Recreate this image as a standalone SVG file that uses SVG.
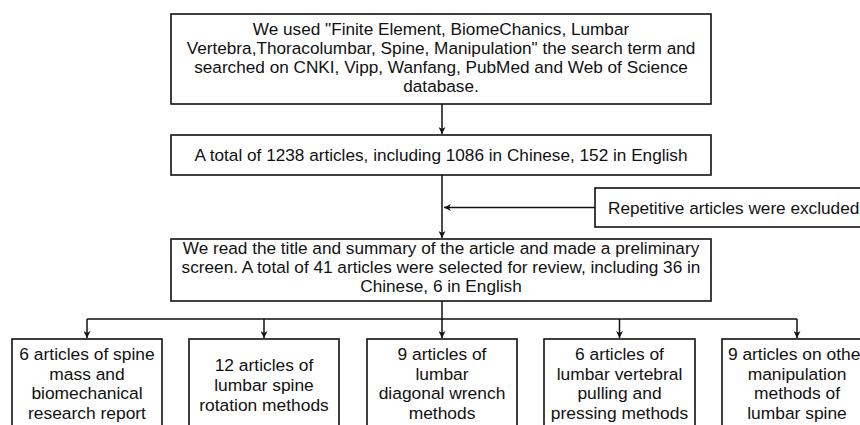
<svg xmlns="http://www.w3.org/2000/svg" width="860" height="425" viewBox="0 0 860 425">
<style>
.box{fill:#fff;stroke:#111;stroke-width:1.6}
.t{font-family:"Liberation Sans",Arial,sans-serif;font-size:17.2px;fill:#111;text-anchor:middle}
.b{font-family:"Liberation Sans",Arial,sans-serif;font-size:17.4px;fill:#111;text-anchor:middle}
.c{fill:none;stroke:#111;stroke-width:1.5}
</style>
<defs>
<marker id="ah" viewBox="0 0 10 10" refX="10" refY="5" markerWidth="7" markerHeight="7" markerUnits="userSpaceOnUse" orient="auto">
<path d="M0,0 L10,5 L0,10 L3,5 Z" fill="#111"/>
</marker>
</defs>
<rect width="860" height="425" fill="#fff"/>
<g id="connectors">
<path class="c" d="M442,104 V134" marker-end="url(#ah)"/>
<path class="c" d="M442,175 V238" marker-end="url(#ah)"/>
<path class="c" d="M595,207.5 H444" marker-end="url(#ah)"/>
<path class="c" d="M442,301 V319 M87,319 H797"/>
<path class="c" d="M87,319 V338" marker-end="url(#ah)"/>
<path class="c" d="M264,319 V338" marker-end="url(#ah)"/>
<path class="c" d="M442,319 V338" marker-end="url(#ah)"/>
<path class="c" d="M619.5,319 V338" marker-end="url(#ah)"/>
<path class="c" d="M797,319 V338" marker-end="url(#ah)"/>
</g>
<g id="search">
<rect class="box" x="171" y="14" width="540" height="90"/>
<text class="t"><tspan x="441" y="35">We used "Finite Element, BiomeChanics, Lumbar</tspan><tspan x="441" y="54">Vertebra,Thoracolumbar, Spine, Manipulation" the search term and</tspan><tspan x="441" y="73">searched on CNKI, Vipp, Wanfang, PubMed and Web of Science</tspan><tspan x="441" y="92">database.</tspan></text>
</g>
<g id="total">
<rect class="box" x="171" y="135" width="540" height="40"/>
<text class="t" x="441" y="161">A total of 1238 articles, including 1086 in Chinese, 152 in English</text>
</g>
<g id="excluded">
<rect class="box" x="595" y="188" width="280" height="39"/>
<text class="t" x="608" y="213.5" style="text-anchor:start">Repetitive articles were excluded</text>
</g>
<g id="screen">
<rect class="box" x="171" y="239" width="540" height="62"/>
<text class="t"><tspan x="441" y="254">We read the title and summary of the article and made a preliminary</tspan><tspan x="441" y="273">screen. A total of 41 articles were selected for review, including 36 in</tspan><tspan x="441" y="292">Chinese, 6 in English</tspan></text>
</g>
<g id="cat1">
<rect class="box" x="12" y="339" width="150" height="95"/>
<text class="b"><tspan x="87" y="360">6 articles of spine</tspan><tspan x="87" y="379.5">mass and</tspan><tspan x="87" y="399">biomechanical</tspan><tspan x="87" y="418.5">research report</tspan></text>
</g>
<g id="cat2">
<rect class="box" x="189" y="339" width="150" height="95"/>
<text class="b"><tspan x="264" y="370.5">12 articles of</tspan><tspan x="264" y="390.5">lumbar spine</tspan><tspan x="264" y="410.5">rotation methods</tspan></text>
</g>
<g id="cat3">
<rect class="box" x="367" y="339" width="150" height="95"/>
<text class="b"><tspan x="442" y="360">9 articles of</tspan><tspan x="442" y="379.5">lumbar</tspan><tspan x="442" y="399">diagonal wrench</tspan><tspan x="442" y="418.5">methods</tspan></text>
</g>
<g id="cat4">
<rect class="box" x="544" y="339" width="151" height="95"/>
<text class="b"><tspan x="619.5" y="360">6 articles of</tspan><tspan x="619.5" y="379.5">lumbar vertebral</tspan><tspan x="619.5" y="399">pulling and</tspan><tspan x="619.5" y="418.5">pressing methods</tspan></text>
</g>
<g id="cat5">
<rect class="box" x="722" y="339" width="150" height="95"/>
<text class="b"><tspan x="797" y="360">9 articles on other</tspan><tspan x="797" y="379.5">manipulation</tspan><tspan x="797" y="399">methods of</tspan><tspan x="797" y="418.5">lumbar spine</tspan></text>
</g>
</svg>
